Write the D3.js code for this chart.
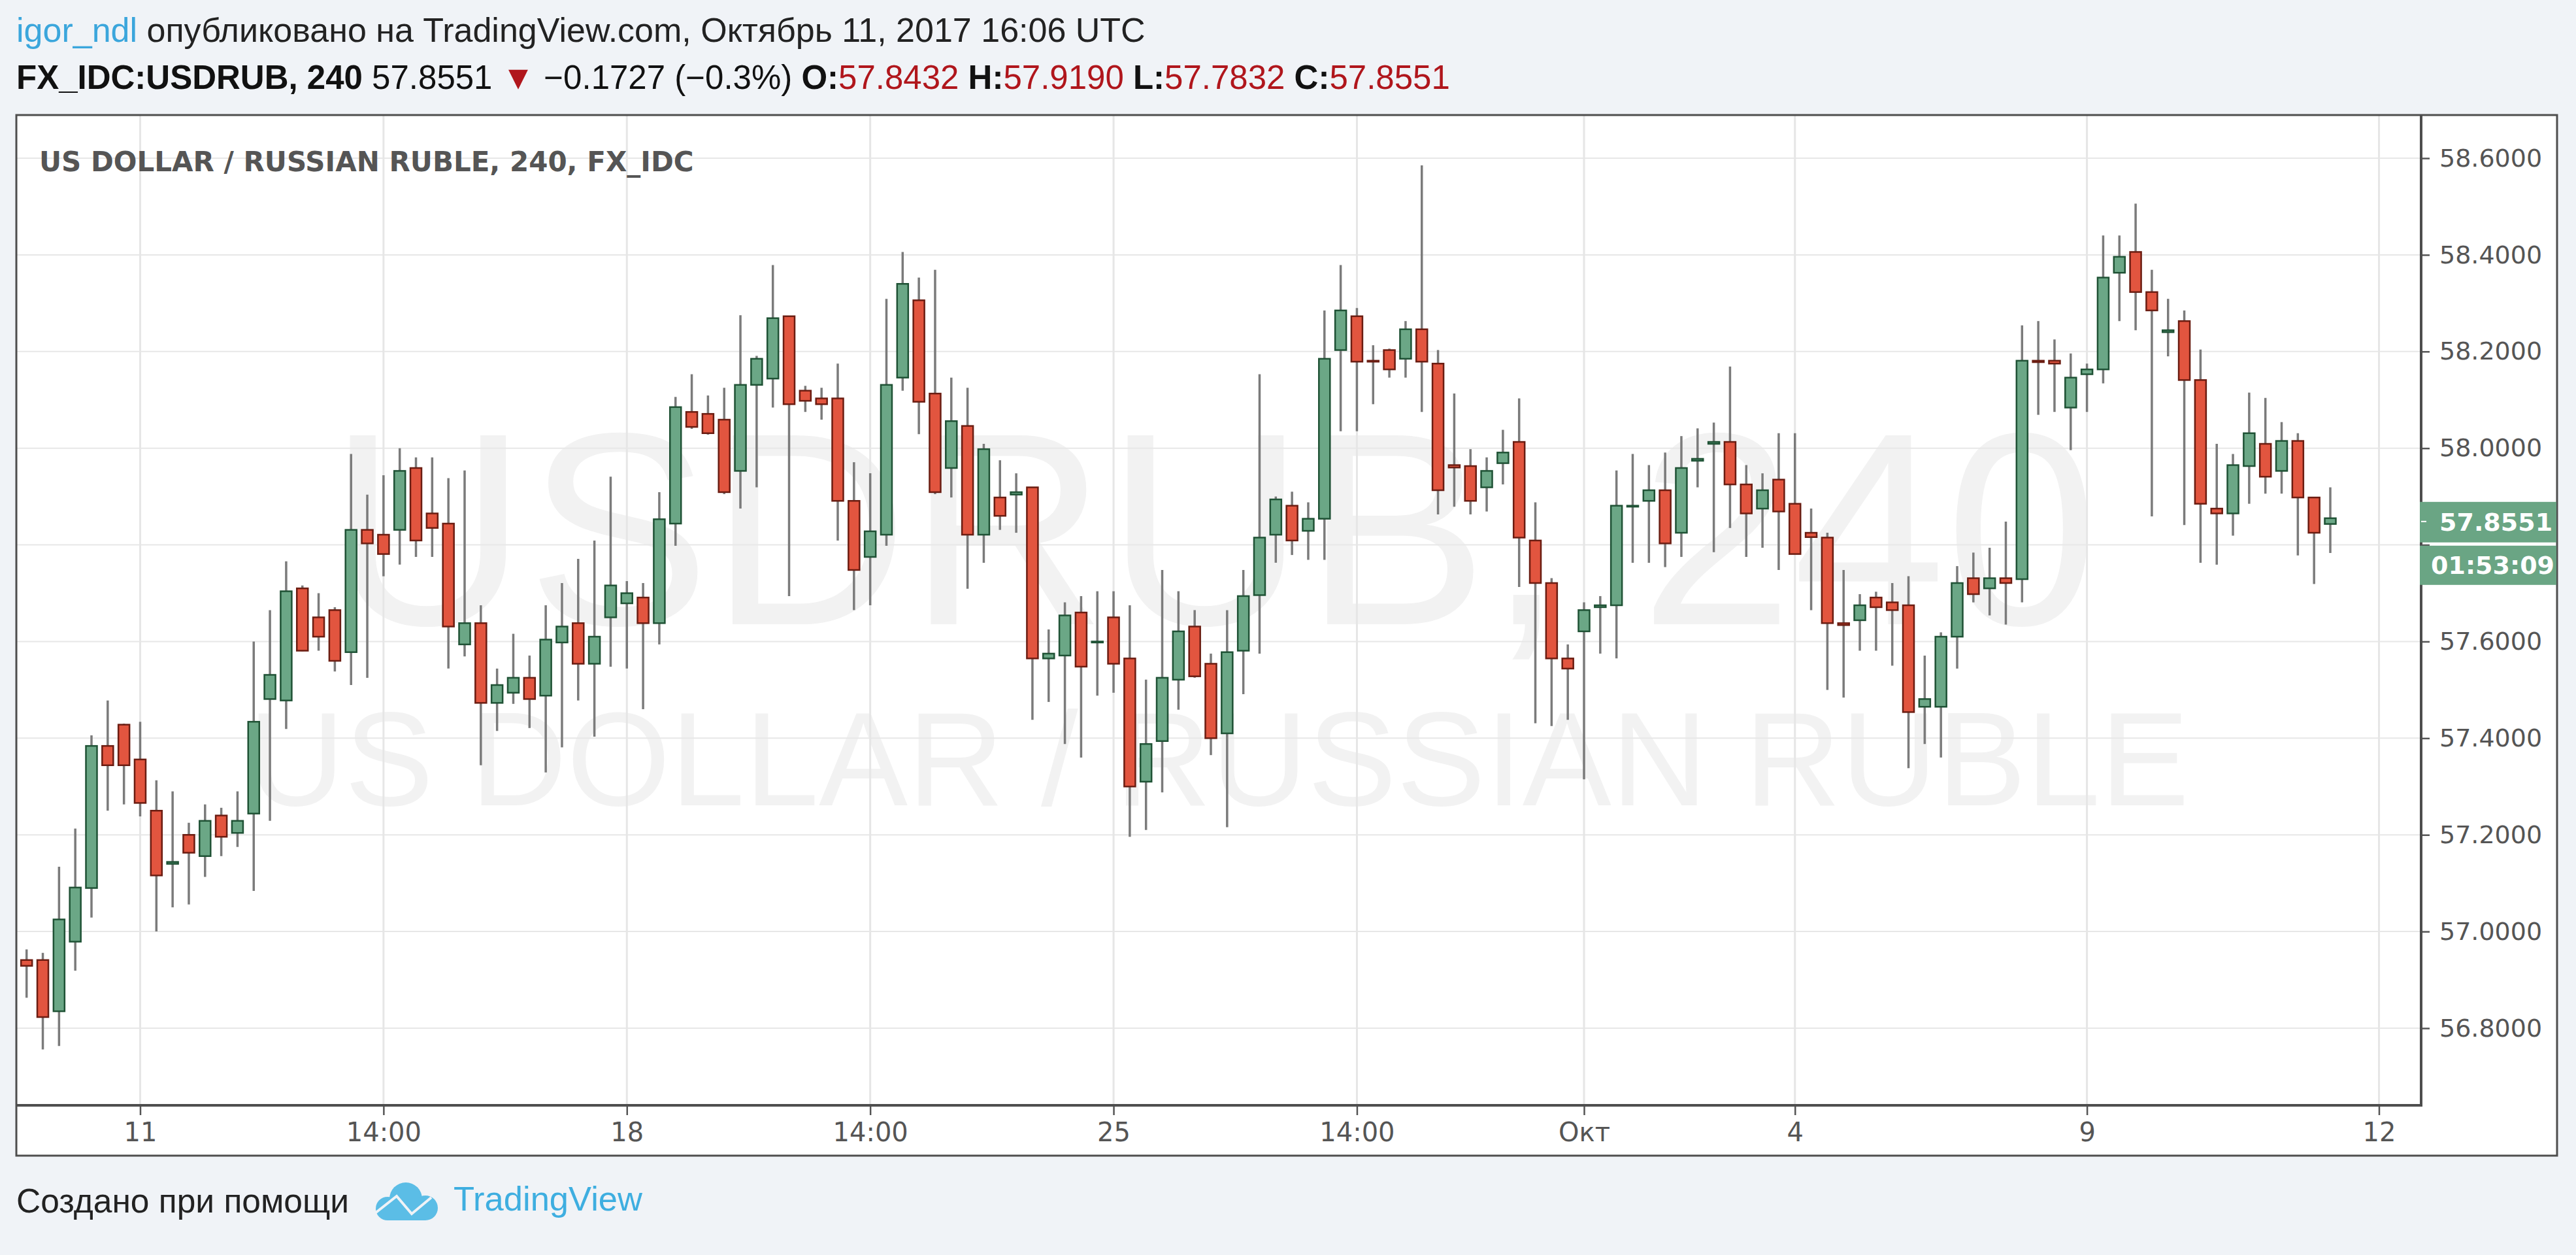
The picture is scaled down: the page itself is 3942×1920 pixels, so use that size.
<!DOCTYPE html>
<html><head><meta charset="utf-8">
<script src="https://cdn.jsdelivr.net/npm/d3@7"></script>
<style>
html,body{margin:0;padding:0;background:#f0f3f7;}
svg{display:block;}
</style>
</head><body>
<svg id="chart" width="3942" height="1920"></svg>
<script>
// ---- DATA (USD/RUB, 4h candles) ----
const openP = [56.941,56.941,56.835,56.979,57.090,57.384,57.428,57.356,57.250,57.140,57.200,57.156,57.240,57.204,57.244,57.481,57.478,57.710,57.650,57.665,
57.578,57.831,57.821,57.831,57.959,57.865,57.844,57.594,57.638,57.473,57.494,57.525,57.488,57.598,57.638,57.554,57.650,57.679,57.691,57.638,
57.844,58.075,58.071,58.059,57.953,58.131,58.144,58.273,58.119,58.103,58.103,57.891,57.775,57.821,58.146,58.306,58.113,57.959,58.046,57.821,
57.898,57.904,57.919,57.565,57.571,57.660,57.598,57.650,57.565,57.310,57.394,57.521,57.631,57.554,57.410,57.581,57.696,57.821,57.881,57.829,
57.854,58.203,58.273,58.181,58.203,58.185,58.246,58.175,57.965,57.963,57.919,57.969,58.013,57.809,57.721,57.565,57.621,57.671,57.675,57.879,
57.891,57.913,57.825,57.974,58.009,58.013,57.925,57.875,57.935,57.885,57.825,57.815,57.638,57.644,57.691,57.681,57.675,57.465,57.465,57.610,
57.731,57.710,57.731,57.729,58.181,58.181,58.084,58.153,58.163,58.363,58.406,58.323,58.240,58.263,58.141,57.875,57.865,57.963,58.009,57.953,
58.015,57.898,57.8432];
const highP = [56.963,56.956,57.134,57.213,57.406,57.478,57.430,57.434,57.313,57.290,57.225,57.263,57.256,57.290,57.600,57.665,57.766,57.716,57.700,57.671,
57.988,57.904,57.944,58.000,57.981,57.981,57.938,57.954,57.675,57.544,57.616,57.571,57.675,57.721,57.771,57.809,57.941,57.725,57.721,57.909,
58.106,58.153,58.109,58.125,58.275,58.191,58.379,58.273,58.129,58.125,58.175,57.971,57.948,58.309,58.406,58.353,58.369,58.146,58.125,58.009,
57.975,57.948,57.919,57.625,57.681,57.694,57.704,57.704,57.675,57.521,57.748,57.704,57.665,57.575,57.665,57.748,58.153,57.900,57.910,57.888,
58.285,58.379,58.290,58.213,58.206,58.263,58.585,58.203,58.113,57.998,57.981,58.038,58.103,57.888,57.731,57.594,57.681,57.694,57.954,57.988,
57.965,57.991,58.025,58.041,58.053,58.169,57.965,57.948,58.031,58.031,57.875,57.825,57.748,57.698,57.703,57.721,57.735,57.571,57.619,57.756,
57.784,57.794,57.848,58.254,58.263,58.225,58.196,58.175,58.440,58.440,58.506,58.369,58.309,58.285,58.204,58.009,57.988,58.115,58.104,58.054,
58.031,57.898,57.9190];
const lowP = [56.863,56.756,56.763,56.919,57.029,57.250,57.263,57.238,57.000,57.050,57.056,57.113,57.156,57.175,57.084,57.229,57.419,57.580,57.581,57.538,
57.510,57.525,57.735,57.759,57.775,57.775,57.544,57.569,57.344,57.415,57.471,57.421,57.329,57.381,57.478,57.403,57.548,57.544,57.460,57.594,
57.798,58.040,58.028,57.905,57.875,57.919,58.084,57.694,58.075,58.059,57.809,57.665,57.675,57.798,58.119,58.029,57.905,57.898,57.709,57.763,
57.831,57.825,57.438,57.475,57.388,57.360,57.488,57.494,57.196,57.210,57.288,57.459,57.525,57.365,57.216,57.491,57.575,57.763,57.779,57.769,
57.769,58.035,58.035,58.091,58.146,58.146,58.075,57.863,57.879,57.863,57.869,57.925,57.713,57.431,57.425,57.438,57.315,57.575,57.565,57.763,
57.763,57.754,57.775,57.919,57.785,57.835,57.775,57.794,57.748,57.781,57.665,57.500,57.484,57.581,57.581,57.550,57.338,57.388,57.360,57.544,
57.681,57.654,57.635,57.681,58.069,58.075,57.996,58.075,58.134,58.263,58.244,57.859,58.190,57.841,57.763,57.759,57.819,57.885,57.906,57.906,
57.778,57.719,57.7832];
const closeP = [56.929,56.823,57.025,57.091,57.384,57.344,57.344,57.266,57.116,57.144,57.163,57.229,57.196,57.229,57.434,57.531,57.704,57.581,57.610,57.560,
57.831,57.803,57.781,57.953,57.809,57.835,57.631,57.638,57.473,57.510,57.525,57.481,57.604,57.631,57.554,57.610,57.716,57.700,57.638,57.853,
58.085,58.044,58.031,57.909,58.131,58.185,58.269,58.091,58.098,58.091,57.891,57.748,57.828,58.131,58.340,58.096,57.909,58.056,57.821,57.998,
57.860,57.909,57.565,57.575,57.654,57.548,57.600,57.554,57.300,57.388,57.525,57.621,57.528,57.400,57.578,57.694,57.815,57.894,57.809,57.854,
58.185,58.285,58.179,58.179,58.163,58.246,58.179,57.913,57.960,57.891,57.953,57.991,57.815,57.721,57.565,57.544,57.665,57.675,57.881,57.881,
57.913,57.803,57.959,57.978,58.013,57.925,57.865,57.913,57.869,57.781,57.816,57.638,57.634,57.675,57.671,57.665,57.454,57.481,57.610,57.721,
57.698,57.731,57.721,58.181,58.178,58.175,58.146,58.163,58.353,58.396,58.323,58.285,58.244,58.141,57.885,57.865,57.965,58.031,57.941,58.015,
57.898,57.825,57.8551];
// time axis: bar index of each label, and the label text
const tickIndex = [7, 22, 37, 52, 67, 82, 96, 109, 127, 145];
const tickLabels = ["11", "14:00", "18", "14:00", "25", "14:00", "Окт", "4", "9", "12"];
const priceTicks = [56.8, 57.0, 57.2, 57.4, 57.6, 57.8, 58.0, 58.2, 58.4, 58.6];
const lastPrice = 57.8551;
const countdown = "01:53:09";

const candles = openP.map((o, i) => ({i, o, h: highP[i], l: lowP[i], c: closeP[i]}));

// ---- LAYOUT ----
const box = {l: 25, t: 176, r: 3913, b: 1768};
const plot = {l: 25, t: 176, r: 3705, b: 1691};

const svg = d3.select("#chart");
const x = d3.scaleLinear().domain([0, candles.length - 1]).range([40.7, 3566]);
const y = d3.scaleLinear().domain([56.8, 58.6]).range([1573, 242]);

const UP_FILL = "#6ba786", UP_LINE = "#1f5235", DN_FILL = "#e2553f", DN_LINE = "#6b1d12", WICK = "#7b7b7b";
const AX_FONT = "'DejaVu Sans', Verdana, sans-serif";
const HDR_FONT = "'Liberation Sans', Arial, sans-serif";

// chart box
svg.append("rect").attr("x", box.l).attr("y", box.t).attr("width", box.r - box.l).attr("height", box.b - box.t)
  .attr("fill", "#ffffff");

svg.append("clipPath").attr("id", "plotclip").append("rect")
  .attr("x", plot.l).attr("y", plot.t).attr("width", plot.r - plot.l).attr("height", plot.b - plot.t);
const P = svg.append("g").attr("clip-path", "url(#plotclip)");

// watermark
const cx = (plot.l + plot.r) / 2;
P.append("text").attr("x", cx - 8).attr("y", 955).attr("text-anchor", "middle")
  .attr("font-family", HDR_FONT).attr("font-size", 420).attr("fill", "#f2f2f2").text("USDRUB, 240");
P.append("text").attr("x", cx).attr("y", 1232).attr("text-anchor", "middle")
  .attr("font-family", HDR_FONT).attr("font-size", 204).attr("fill", "#f2f2f2").text("US DOLLAR / RUSSIAN RUBLE");

// grid
P.selectAll("line.hg").data(priceTicks).join("line").attr("class", "hg")
  .attr("x1", plot.l).attr("x2", plot.r).attr("y1", d => y(d)).attr("y2", d => y(d))
  .attr("stroke", "#e7e7e7").attr("stroke-width", 2);
P.selectAll("line.vg").data(tickIndex).join("line").attr("class", "vg")
  .attr("x1", d => x(d)).attr("x2", d => x(d)).attr("y1", plot.t).attr("y2", plot.b)
  .attr("stroke", "#e6e6e6").attr("stroke-width", 3);

// title
P.append("text").attr("x", 60).attr("y", 262).attr("font-family", AX_FONT).attr("font-weight", "bold")
  .attr("font-size", 42).attr("fill", "#555").text("US DOLLAR / RUSSIAN RUBLE, 240, FX_IDC");

// candles
const bw = 17;
const cg = P.append("g");
cg.selectAll("line.w").data(candles).join("line").attr("class", "w")
  .attr("x1", d => x(d.i)).attr("x2", d => x(d.i)).attr("y1", d => y(d.h)).attr("y2", d => y(d.l))
  .attr("stroke", WICK).attr("stroke-width", 3.5);
cg.selectAll("rect.b").data(candles).join("rect").attr("class", "b")
  .attr("x", d => x(d.i) - bw / 2)
  .attr("y", d => Math.min(y(d.o), y(d.c)))
  .attr("width", bw)
  .attr("height", d => Math.max(Math.abs(y(d.o) - y(d.c)), 1.5))
  .attr("fill", d => d.c >= d.o ? UP_FILL : DN_FILL)
  .attr("stroke", d => d.c >= d.o ? UP_LINE : DN_LINE)
  .attr("stroke-width", 2.5);

// price axis (labels hidden where the last-price boxes cover them)
const ly = y(lastPrice);
const yAxis = svg.append("g").attr("transform", `translate(${plot.r},0)`)
  .call(d3.axisRight(y).tickValues(priceTicks).tickFormat(d3.format(".4f")).tickSize(13).tickPadding(15));
yAxis.select(".domain").remove();
yAxis.selectAll(".tick line").attr("stroke", "#555").attr("stroke-width", 2.5);
yAxis.selectAll(".tick text").attr("font-family", AX_FONT).attr("font-size", 38).attr("fill", "#555");
yAxis.selectAll(".tick").filter(d => y(d) > ly - 50 && y(d) < ly + 125).select("text").remove();

// time axis
const xAxis = svg.append("g").attr("transform", `translate(0,${plot.b})`)
  .call(d3.axisBottom(x).tickValues(tickIndex).tickFormat((d, i) => tickLabels[i]).tickSize(15).tickPadding(12));
xAxis.select(".domain").remove();
xAxis.selectAll(".tick line").attr("stroke", "#555").attr("stroke-width", 2.5);
xAxis.selectAll(".tick text").attr("font-family", AX_FONT).attr("font-size", 40).attr("fill", "#555");

// borders
const bord = svg.append("g").attr("stroke", "#4e4e4e").attr("fill", "none");
bord.append("rect").attr("x", box.l).attr("y", box.t).attr("width", box.r - box.l).attr("height", box.b - box.t).attr("stroke-width", 3);
bord.append("line").attr("x1", plot.r).attr("x2", plot.r).attr("y1", box.t).attr("y2", plot.b + 2).attr("stroke-width", 4);
bord.append("line").attr("x1", box.l).attr("x2", plot.r + 2).attr("y1", plot.b).attr("y2", plot.b).attr("stroke-width", 4);

// last price labels
const lg = svg.append("g");
lg.append("rect").attr("x", plot.r - 2).attr("y", ly - 25).attr("width", box.r - plot.r + 1).attr("height", 62).attr("fill", "#6aa584");
lg.append("rect").attr("x", plot.r - 2).attr("y", ly + 42).attr("width", box.r - plot.r + 1).attr("height", 60).attr("fill", "#6aa584");
lg.append("line").attr("x1", plot.r).attr("x2", plot.r + 8).attr("y1", ly + 5).attr("y2", ly + 5).attr("stroke", "#fff").attr("stroke-width", 2);
lg.append("text").attr("x", 3733).attr("y", ly + 6).attr("dy", "0.35em").attr("font-family", AX_FONT).attr("font-weight", "bold")
  .attr("font-size", 38).attr("fill", "#fff").text(d3.format(".4f")(lastPrice));
lg.append("text").attr("x", 3720).attr("y", ly + 72).attr("dy", "0.35em").attr("font-family", AX_FONT).attr("font-weight", "bold")
  .attr("font-size", 38).attr("fill", "#fff").text(countdown);

// header
const h1 = svg.append("text").attr("x", 25).attr("y", 64).attr("font-family", HDR_FONT).attr("font-size", 52).attr("fill", "#222");
h1.append("tspan").attr("fill", "#3ba6dc").text("igor_ndl");
h1.append("tspan").text(" опубликовано на TradingView.com, Октябрь 11, 2017 16:06 UTC");

const RED = "#b0161c";
const h2 = svg.append("text").attr("x", 25).attr("y", 136).attr("font-family", HDR_FONT).attr("font-size", 51).attr("fill", "#111");
const parts = [
  ["FX_IDC:USDRUB, 240", "bold", "#111"], [" 57.8551 ", "normal", "#111"], ["▼", "normal", RED],
  [" −0.1727 (−0.3%) ", "normal", "#111"],
  ["O:", "bold", "#111"], ["57.8432", "normal", RED], [" H:", "bold", "#111"], ["57.9190", "normal", RED],
  [" L:", "bold", "#111"], ["57.7832", "normal", RED], [" C:", "bold", "#111"], ["57.8551", "normal", RED]
];
parts.forEach(p => h2.append("tspan").attr("font-weight", p[1]).attr("fill", p[2]).text(p[0]));

// footer
svg.append("text").attr("x", 25).attr("y", 1855).attr("font-family", HDR_FONT).attr("font-size", 51.5).attr("fill", "#222")
  .text("Создано при помощи");
const logo = svg.append("g").attr("fill", "#5bbde6");
logo.append("circle").attr("cx", 593).attr("cy", 1849).attr("r", 18);
logo.append("circle").attr("cx", 621).attr("cy", 1834).attr("r", 25);
logo.append("circle").attr("cx", 651).attr("cy", 1848).attr("r", 19);
logo.append("rect").attr("x", 593).attr("y", 1845).attr("width", 58).attr("height", 22);
logo.append("polyline").attr("points", "574,1856 607,1830 630,1857 660,1832").attr("fill", "none")
  .attr("stroke", "#f0f3f7").attr("stroke-width", 4);
svg.append("text").attr("x", 694).attr("y", 1852).attr("font-family", HDR_FONT).attr("font-size", 52.5).attr("fill", "#3eaee0")
  .text("TradingView");
</script>
</body></html>
